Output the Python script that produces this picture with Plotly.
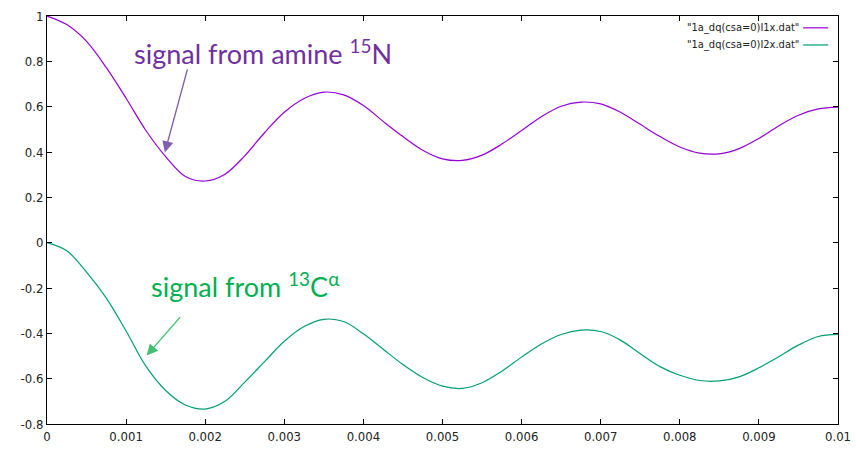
import plotly.graph_objects as go

# time axis (s) and the two simulated signals
t = [0.0, 0.00025, 0.0005, 0.00075, 0.001, 0.00125, 0.0015, 0.00175, 0.002, 0.00225,
     0.0025, 0.00275, 0.003, 0.00325, 0.0035, 0.00375, 0.004, 0.00425, 0.0045, 0.00475,
     0.005, 0.00525, 0.0055, 0.00575, 0.006, 0.00625, 0.0065, 0.00675, 0.007, 0.00725,
     0.0075, 0.00775, 0.008, 0.00825, 0.0085, 0.00875, 0.009, 0.00925, 0.0095, 0.00975, 0.01]

i1x = [1.0, 0.962, 0.888, 0.772, 0.637, 0.495, 0.38, 0.292, 0.272, 0.302,
       0.383, 0.485, 0.575, 0.636, 0.664, 0.652, 0.605, 0.535, 0.468, 0.408,
       0.37, 0.363, 0.386, 0.435, 0.495, 0.556, 0.602, 0.62, 0.612, 0.575,
       0.522, 0.468, 0.422, 0.395, 0.392, 0.415, 0.46, 0.515, 0.562, 0.59, 0.598]

i2x = [0.0, -0.036, -0.13, -0.245, -0.39, -0.545, -0.652, -0.716, -0.734, -0.7,
       -0.615, -0.525, -0.435, -0.37, -0.338, -0.348, -0.402, -0.47, -0.538, -0.595,
       -0.633, -0.643, -0.618, -0.567, -0.505, -0.447, -0.405, -0.386, -0.392, -0.43,
       -0.49, -0.547, -0.585, -0.608, -0.61, -0.592, -0.552, -0.503, -0.452, -0.414, -0.405]

series_names = ['"1a_dq(csa=0)I1x.dat"', '"1a_dq(csa=0)I2x.dat"']

x_ticks = [0, 0.001, 0.002, 0.003, 0.004, 0.005, 0.006, 0.007, 0.008, 0.009, 0.01]
x_tick_text = ["0", "0.001", "0.002", "0.003", "0.004", "0.005", "0.006", "0.007", "0.008", "0.009", "0.01"]
y_ticks = [1, 0.8, 0.6, 0.4, 0.2, 0, -0.2, -0.4, -0.6, -0.8]
y_tick_text = ["1", "0.8", "0.6", "0.4", "0.2", "0", "-0.2", "-0.4", "-0.6", "-0.8"]

PURPLE = "#9400d3"
GREEN = "#009e73"
TEXT_PURPLE = "#7030a0"
TEXT_GREEN = "#00b050"
NARROW = "Liberation Sans Narrow, DejaVu Sans Condensed, sans-serif"
tick_font = dict(family=NARROW, size=13, color="#222222")

colors = [PURPLE, GREEN]
fig = go.Figure()
for name, ys, col in zip(series_names, [i1x, i2x], colors):
    fig.add_trace(go.Scatter(x=t, y=ys, mode="lines", name=name, showlegend=False,
                             line=dict(color=col, width=1.2, shape="spline", smoothing=1.0)))

axis_common = dict(showgrid=False, zeroline=False, showline=True, linecolor="#000000", linewidth=1,
                   mirror="ticks", ticks="inside", ticklen=5, tickcolor="#000000", tickfont=tick_font,
                   ticklabeloverflow="allow")

fig.update_xaxes(range=[0, 0.01], tickvals=x_ticks, ticktext=x_tick_text, **axis_common)
fig.update_yaxes(range=[-0.8, 1], tickvals=y_ticks, ticktext=y_tick_text, **axis_common)

# gnuplot-style key: right-aligned file names followed by a short line sample
key_rows = [0.971, 0.929]
for name, col, ky in zip(series_names, colors, key_rows):
    fig.add_annotation(x=0.953, y=ky, xref="paper", yref="paper", xanchor="right", yanchor="middle",
                       text=name, showarrow=False, font=dict(family=NARROW, size=11, color="#222222"))
    fig.add_shape(type="line", xref="paper", yref="paper", x0=0.956, x1=0.9876, y0=ky, y1=ky,
                  line=dict(color=col, width=1.2))

annot_font = "Lato, Open Sans, sans-serif"
fig.add_annotation(x=0.00108, y=0.84, xref="x", yref="y", xanchor="left", yanchor="middle",
                   text="signal from amine <sup>15</sup>N", showarrow=False,
                   font=dict(family=annot_font, size=27, color=TEXT_PURPLE))
fig.add_annotation(x=0.00149, y=0.398, ax=0.00178, ay=0.771, xref="x", yref="y", axref="x", ayref="y",
                   text="", showarrow=True, arrowhead=2, arrowsize=1.6, arrowwidth=1.4,
                   arrowcolor="#8060b0")
fig.add_annotation(x=0.00129, y=-0.185, xref="x", yref="y", xanchor="left", yanchor="middle",
                   text="signal from <sup>13</sup>C<sup>α</sup>", showarrow=False,
                   font=dict(family=annot_font, size=27, color=TEXT_GREEN))
fig.add_annotation(x=0.00126, y=-0.498, ax=0.0017, ay=-0.322, xref="x", yref="y", axref="x", ayref="y",
                   text="", showarrow=True, arrowhead=2, arrowsize=1.6, arrowwidth=1.4,
                   arrowcolor="#40c070")

fig.update_layout(
    width=860, height=453,
    margin=dict(l=47, r=9, t=15, b=29),
    paper_bgcolor="white", plot_bgcolor="white",
    showlegend=False,
)

fig.write_html("out.html")
